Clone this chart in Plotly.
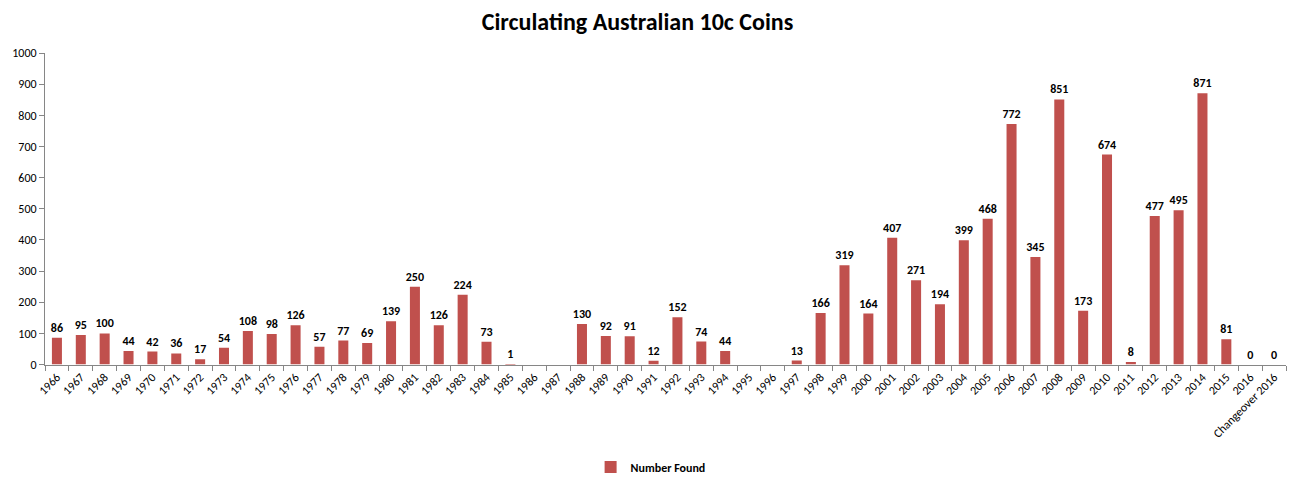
import plotly.graph_objects as go

categories = [str(y) for y in range(1966, 2017)] + ["Changeover 2016"]
values = [86, 95, 100, 44, 42, 36, 17, 54, 108, 98, 126, 57, 77, 69, 139, 250, 126, 224, 73, 1,
          None, None, 130, 92, 91, 12, 152, 74, 44, None, None, 13, 166, 319, 164, 407, 271, 194,
          399, 468, 772, 345, 851, 173, 674, 8, 477, 495, 871, 81, 0, 0]
y_ticks = [0, 100, 200, 300, 400, 500, 600, 700, 800, 900, 1000]

font_family = "Carlito, Calibri, Lato, 'Open Sans', sans-serif"

fig = go.Figure()
fig.add_trace(go.Bar(
    x=categories, y=values, name="<b>Number Found</b>",
    marker=dict(color="#C0504D", line=dict(width=0)),
    texttemplate="<b>%{y}</b>", textposition="outside", constraintext="none",
    textfont=dict(size=12, color="#000000", family=font_family),
    cliponaxis=False,
))
fig.update_layout(
    width=1301, height=488,
    margin=dict(l=44, r=15, t=53, b=122),
    paper_bgcolor="white", plot_bgcolor="white",
    font=dict(family=font_family, color="#000000"),
    title=dict(text="<b>Circulating Australian 10c Coins</b>", x=0.49, xanchor="center",
               y=0.955, yanchor="middle", font=dict(size=24, color="#000000", family=font_family)),
    bargap=0.58,
    showlegend=True,
    legend=dict(orientation="h", x=0.488, xanchor="center", yref="container", y=0.043,
                yanchor="middle", font=dict(size=12, color="#000000", family=font_family)),
    xaxis=dict(type="category", tickangle=-45, tickfont=dict(size=12, color="#000000"),
               showline=True, linecolor="#868686", linewidth=1,
               ticks="outside", tickson="boundaries", ticklen=5, tickcolor="#868686",
               showgrid=False),
    yaxis=dict(range=[0, 1000], tickvals=y_ticks, tickfont=dict(size=12, color="#000000"),
               showline=True, linecolor="#868686", linewidth=1,
               ticks="outside", ticklen=5, tickcolor="#868686",
               showgrid=False, zeroline=False),
)
fig.write_html("out.html")
